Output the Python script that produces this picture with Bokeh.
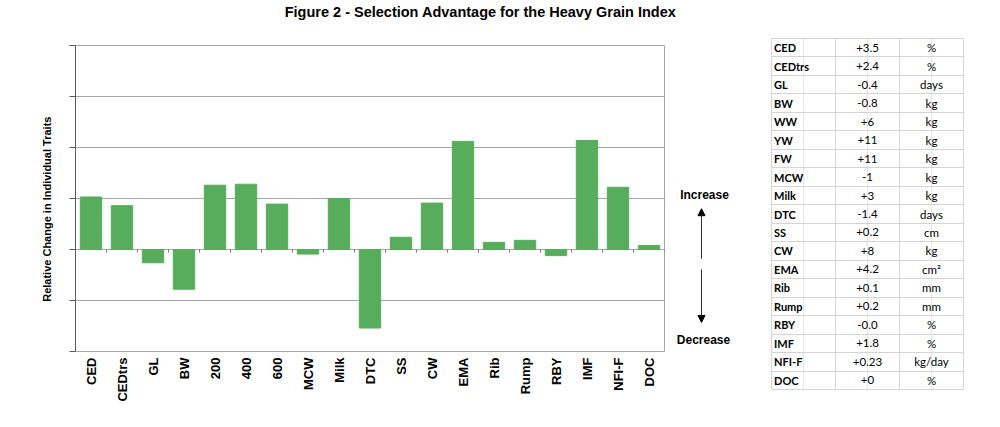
from bokeh.plotting import figure
from bokeh.models import (FactorRange, Range1d, FixedTicker, Grid, Arrow, NormalHead,
                          ColumnDataSource, CustomJSTickFormatter)
from bokeh.layouts import row, column
from bokeh.core.properties import value
from bokeh.embed import file_html
from bokeh.resources import INLINE
import math

# ---- data ----
traits = ["CED", "CEDtrs", "GL", "BW", "200", "400", "600", "MCW", "Milk", "DTC",
          "SS", "CW", "EMA", "Rib", "Rump", "RBY", "IMF", "NFI-F", "DOC"]
relative_change = [1.03, 0.86, -0.26, -0.78, 1.26, 1.28, 0.89, -0.09, 1.00, -1.54,
                   0.24, 0.91, 2.12, 0.14, 0.18, -0.12, 2.14, 1.22, 0.08]
y_ticks = [-2, -1, 0, 1, 2, 3, 4]

table_traits = ["CED", "CEDtrs", "GL", "BW", "WW", "YW", "FW", "MCW", "Milk", "DTC",
                "SS", "CW", "EMA", "Rib", "Rump", "RBY", "IMF", "NFI-F", "DOC"]
table_values = ["+3.5", "+2.4", "-0.4", "-0.8", "+6", "+11", "+11", "-1", "+3", "-1.4",
                "+0.2", "+8", "+4.2", "+0.1", "+0.2", "-0.0", "+1.8", "+0.23", "+0"]
table_units = ["%", "%", "days", "kg", "kg", "kg", "kg", "kg", "kg", "days",
               "cm", "kg", "cm\u00b2", "mm", "mm", "%", "%", "kg/day", "%"]

title_text = "Figure 2 - Selection Advantage for the Heavy Grain Index"

FONT = "Liberation Sans"
BAR = "#57ad5b"
GRID = "#a6a6a6"
TOP = 24          # height of the title strip
ROW_H = 396

# ---- title strip ----
tf = figure(x_range=Range1d(0, 973), y_range=Range1d(TOP, 0), width=973, height=TOP,
            output_backend="svg", toolbar_location=None,
            x_axis_location=None, y_axis_location=None, min_border=0)
tf.frame_align = False
tf.outline_line_color = None
tf.grid.grid_line_color = None
tf.text(x=[480], y=[11], text=[title_text], text_font=value(FONT), text_font_style="bold",
        text_font_size="14.5px", text_align="center", text_baseline="middle", text_color="black")

yr = Range1d(y_ticks[0], y_ticks[-1])

# ---- main chart ----
p = figure(x_range=FactorRange(factors=traits), y_range=yr, width=668, height=ROW_H,
           output_backend="svg", toolbar_location=None,
           min_border_left=75, min_border_right=4, min_border_top=21, min_border_bottom=69)
p.frame_align = False
p.outline_line_color = GRID
p.background_fill_color = "white"
p.border_fill_color = "white"

p.vbar(x=traits, top=relative_change, bottom=0, width=0.69, fill_color=BAR, line_color=BAR)

# tick marks at category boundaries on the zero line
p.segment(x0=[(t, 0.5) for t in traits], x1=[(t, 0.5) for t in traits],
          y0=[0] * len(traits), y1=[-0.06] * len(traits), line_color="#7f6f6f", line_width=1)

p.xgrid.grid_line_color = None
p.ygrid.ticker = FixedTicker(ticks=y_ticks[1:-1])
p.ygrid.grid_line_color = GRID

p.xaxis.axis_line_color = None
p.xaxis.major_tick_line_color = None
p.xaxis.minor_tick_line_color = None
p.xaxis.major_tick_out = 0
p.xaxis.major_label_orientation = math.pi / 2
p.xaxis.major_label_text_font = FONT
p.xaxis.major_label_text_font_style = "bold"
p.xaxis.major_label_text_font_size = "13px"
p.xaxis.major_label_text_color = "black"
p.xaxis.major_label_standoff = 6

p.yaxis.ticker = FixedTicker(ticks=y_ticks)
p.yaxis.formatter = CustomJSTickFormatter(code="return ''")
p.yaxis.major_label_text_color = None
p.yaxis.axis_line_color = "#595959"
p.yaxis.major_tick_line_color = "#595959"
p.yaxis.major_tick_out = 6
p.yaxis.major_tick_in = 0
p.yaxis.minor_tick_line_color = None
p.yaxis.axis_label = "Relative Change in Individual Traits" + "\u00a0" * 7
p.yaxis.axis_label_text_font = FONT
p.yaxis.axis_label_text_font_style = "bold"
p.yaxis.axis_label_text_font_size = "11px"
p.yaxis.axis_label_text_color = "black"
p.yaxis.axis_label_standoff = 17

# ---- increase / decrease arrows ----
m = figure(x_range=Range1d(0, 100), y_range=yr, width=100, height=ROW_H,
           output_backend="svg", toolbar_location=None,
           x_axis_location=None, y_axis_location=None,
           min_border_left=0, min_border_right=0, min_border_top=21, min_border_bottom=69)
m.frame_align = False
m.outline_line_color = None
m.grid.grid_line_color = None
m.text(x=[36, 35], y=[1.07, -1.78], text=["Increase", "Decrease"],
       text_font=value(FONT), text_font_style="bold", text_font_size="12px",
       text_align="center", text_baseline="middle", text_color="black")
m.add_layout(Arrow(end=NormalHead(size=7, fill_color="black", line_color="black"),
                   x_start=33, y_start=-0.18, x_end=33, y_end=0.80,
                   line_color="#333333", line_width=1))
m.add_layout(Arrow(end=NormalHead(size=7, fill_color="black", line_color="black"),
                   x_start=33, y_start=-0.39, x_end=33, y_end=-1.43,
                   line_color="#333333", line_width=1))

# ---- table ----
n = len(table_traits)
t = figure(x_range=Range1d(0, 3), y_range=Range1d(n, 0), width=205, height=ROW_H,
           output_backend="svg", toolbar_location=None,
           x_axis_location=None, y_axis_location=None,
           min_border_left=3, min_border_right=10, min_border_top=14, min_border_bottom=31)
t.frame_align = False
t.outline_line_color = "#d4d4d4"
t.add_layout(Grid(dimension=0, ticker=FixedTicker(ticks=[1, 2]), grid_line_color="#d4d4d4"))
t.add_layout(Grid(dimension=1, ticker=FixedTicker(ticks=list(range(1, n))), grid_line_color="#d4d4d4"))
rows = [i + 0.5 for i in range(n)]
src = ColumnDataSource(dict(y=rows, name=table_traits, val=table_values, unit=table_units))
t.text(x=0.04, y="y", text="name", source=src, text_font=value("Lato"), text_font_style="bold",
       text_font_size="11px", text_align="left", text_baseline="middle", text_color="black")
t.text(x=1.5, y="y", text="val", source=src, text_font=value("Lato"),
       text_font_size="11.5px", text_align="center", text_baseline="middle", text_color="black")
t.text(x=2.5, y="y", text="unit", source=src, text_font=value("Lato"),
       text_font_size="11.5px", text_align="center", text_baseline="middle", text_color="black")

layout = column(tf, row(p, m, t))
open("out.html", "w").write(file_html(layout, INLINE))
